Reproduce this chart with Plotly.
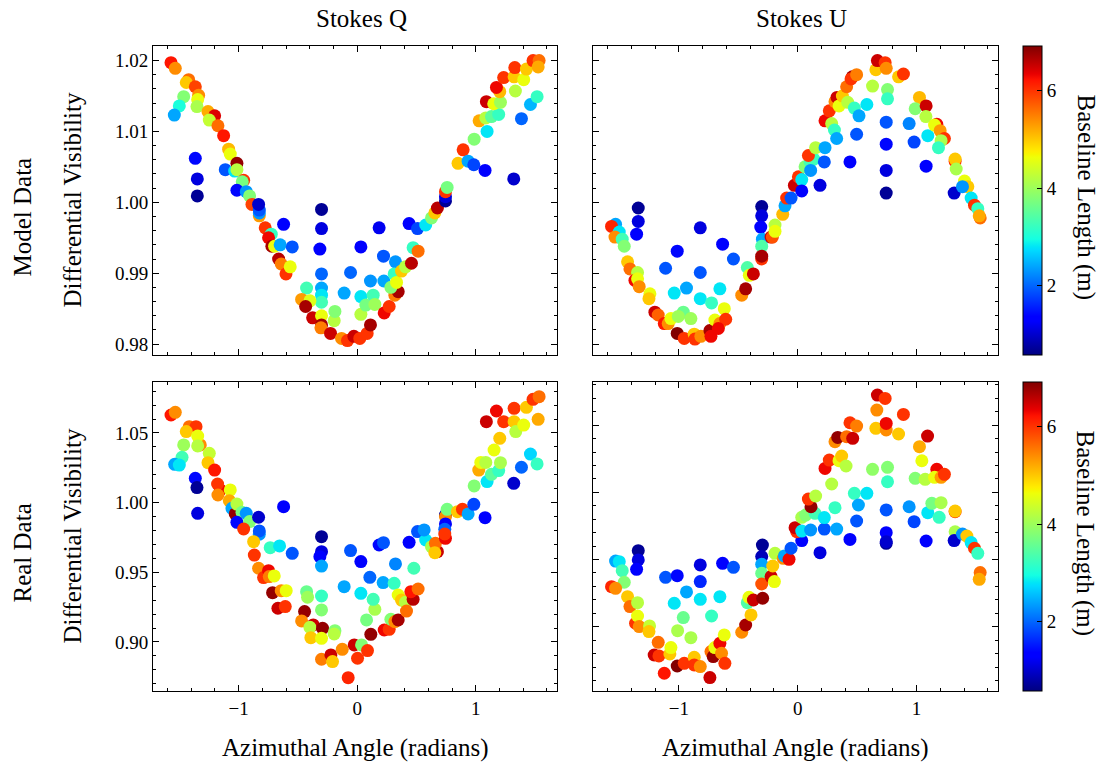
import plotly.graph_objects as go

FONT = "Liberation Serif"
W, H = 1103, 766

# ---------------------------------------------------------------- data
# Stokes Q, model data: azimuthal angle (rad), differential visibility, baseline length (m)
q_model_angle = [
    -1.571, -1.535, -1.422, -1.442, -1.366, -1.338, -1.346, -1.464, -1.501, -1.543,
    -1.352, -1.259, -1.203, -1.248, -1.175, -1.127, -1.085, -1.071, -1.366, -1.349,
    -1.349, -1.113, -1.034, -1.015, -1.015, -0.958, -0.970, -1.015, -0.936, -0.908,
    -0.888, -0.826, -0.826, -0.826, -0.832, -0.776, -0.725, -0.748, -0.720, -0.697,
    -0.650, -0.621, -0.548, -0.663, -0.641, -0.601, -0.565,
    -0.301, -0.301, -0.315, -0.301, -0.301, -0.301, -0.301, -0.427, -0.469, -0.399,
    -0.435, -0.376, -0.301, -0.194, -0.188, -0.301, -0.306, -0.225, -0.132, -0.082,
    -0.028, 0.022, 0.084, 0.112, -0.110, -0.056, 0.031, 0.031, 0.031, 0.073,
    0.135, 0.149, 0.112, 0.185, 0.222, 0.225, 0.228, 0.270, 0.323, 0.312,
    0.318, 0.346, 0.284, 0.332, 0.374, 0.408, 0.458, 0.438, 0.509, 0.578,
    0.472, 0.514,
    0.627, 0.655, 0.677, 0.745, 0.745, 0.745, 0.759, 0.851, 0.894, 0.936,
    0.984, 1.079, 1.321, 0.987, 1.096, 1.029, 1.085, 1.133, 1.194, 1.090,
    1.152, 1.209, 1.203, 1.175, 1.236, 1.335, 1.324, 1.330, 1.405, 1.428,
    1.386, 1.462, 1.518, 1.484, 1.535, 1.527,
]
q_model_vis = [
    1.0197, 1.0189, 1.0173, 1.0169, 1.0163, 1.0151, 1.0145, 1.0149, 1.0136, 1.0123,
    1.0135, 1.0128, 1.0122, 1.0116, 1.0108, 1.0094, 1.0075, 1.0068, 1.0062, 1.0033,
    1.0009, 1.0046, 1.0044, 1.0055, 1.0046, 1.0031, 1.0029, 1.0017, 1.0015, 1.0009,
    0.9997, 0.9981, 0.9985, 0.9989, 0.9997, 0.9964, 0.9955, 0.9950, 0.9938, 0.9938,
    0.9940, 0.9969, 0.9937, 0.9920, 0.9913, 0.9899, 0.9909,
    0.9990, 0.9963, 0.9934, 0.9899, 0.9879, 0.9869, 0.9859, 0.9879, 0.9863, 0.9861,
    0.9853, 0.9837, 0.9840, 0.9833, 0.9846, 0.9827, 0.9823, 0.9815, 0.9808, 0.9805,
    0.9811, 0.9808, 0.9815, 0.9827, 0.9872, 0.9901, 0.9937, 0.9867, 0.9842, 0.9855,
    0.9869, 0.9856, 0.9889, 0.9964, 0.9924, 0.9889, 0.9844, 0.9853, 0.9916, 0.9899,
    0.9869, 0.9874, 0.9880, 0.9887, 0.9903, 0.9909, 0.9914, 0.9970, 0.9963, 0.9968,
    0.9936, 0.9931,
    0.9978, 0.9985, 0.9992, 1.0002, 1.0008, 1.0015, 1.0021, 1.0055, 1.0074, 1.0058,
    1.0053, 1.0045, 1.0033, 1.0089, 1.0100, 1.0115, 1.0119, 1.0121, 1.0124, 1.0142,
    1.0139, 1.0141, 1.0156, 1.0162, 1.0176, 1.0157, 1.0177, 1.0190, 1.0173, 1.0188,
    1.0118, 1.0138, 1.0149, 1.0200, 1.0200, 1.0191,
]
q_model_length = [
    6.2, 5.4, 5.6, 5.0, 5.9, 5.4, 4.6, 3.8, 3.0, 2.4,
    4.1, 5.2, 6.4, 4.3, 5.6, 6.2, 5.1, 4.6, 1.4, 1.1,
    0.7, 1.9, 2.8, 6.8, 4.2, 6.0, 3.7, 1.4, 2.3, 3.8,
    5.9, 5.3, 2.3, 1.9, 1.0, 6.0, 3.2, 6.3, 6.7, 4.6,
    2.4, 1.3, 1.9, 6.6, 5.5, 6.0, 4.6,
    0.7, 1.1, 1.3, 2.0, 2.4, 2.8, 3.3, 3.3, 5.3, 4.5,
    6.7, 6.5, 4.6, 4.2, 3.8, 6.7, 5.5, 6.5, 5.4, 6.0,
    6.5, 6.0, 6.0, 6.7, 2.4, 2.0, 1.3, 2.8, 4.2, 3.7,
    3.3, 4.0, 2.3, 1.2, 1.9, 2.4, 6.3, 6.0, 2.3, 3.2,
    5.5, 6.7, 3.8, 4.6, 5.0, 4.2, 6.6, 1.3, 1.8, 2.8,
    3.2, 5.6,
    3.8, 5.0, 6.6, 0.7, 1.1, 6.0, 3.7, 5.0, 6.0, 2.4,
    1.8, 1.3, 1.0, 3.8, 2.8, 5.2, 4.2, 3.5, 3.2, 6.5,
    4.6, 4.0, 5.1, 6.3, 6.0, 4.2, 5.0, 6.0, 4.6, 5.0,
    2.0, 2.5, 3.2, 6.0, 5.6, 5.2,
]

# Stokes U, model data
u_model_angle = [
    -1.342, -1.342, -1.356, -1.533, -1.567, -1.502, -1.538, -1.477, -1.460, -1.432,
    -1.412, -1.348, -1.370, -1.348, -1.334, -1.244, -1.252, -1.202, -1.174, -1.123,
    -1.090, -1.067, -1.014, -1.112, -1.039, -0.936, -0.963, -1.005, -0.899, -1.014,
    -0.955, -0.871, -0.865, -0.815, -0.820, -0.820, -0.820, -0.725, -0.739, -0.697,
    -0.730, -0.655, -0.655, -0.632, -0.618,
    -0.541, -0.606, -0.668, -0.471, -0.438, -0.424, -0.407, -0.373, -0.303, -0.303,
    -0.311, -0.297, -0.303, -0.303, -0.303, -0.224, -0.213, -0.191, -0.191, -0.126,
    -0.107, -0.093, -0.056, -0.028, 0.006, 0.034, 0.034, 0.062, 0.135, 0.104,
    0.109, 0.090, 0.151, 0.188, 0.224, 0.230, 0.230, 0.286, 0.309, 0.328,
    0.266, 0.314, 0.331, 0.348, 0.376, 0.421, 0.477, 0.412, 0.460, 0.449,
    0.496, 0.440, 0.496, 0.516,
    0.582, 0.630, 0.658, 0.671, 0.736, 0.745, 0.756, 0.756, 0.745, 0.745,
    0.745, 0.745, 0.849, 0.890, 0.938, 0.980, 1.025, 0.989, 1.081, 1.079,
    1.081, 1.095, 1.171, 1.152, 1.199, 1.235, 1.207, 1.185, 1.325, 1.325,
    1.334, 1.317, 1.404, 1.432, 1.387, 1.460, 1.488, 1.516, 1.536, 1.528,
]
u_model_vis = [
    0.9992, 0.9973, 0.9955, 0.9969, 0.9966, 0.9958, 0.9951, 0.9948, 0.9938, 0.9916,
    0.9906, 0.9901, 0.9890, 0.9892, 0.9881, 0.9871, 0.9864, 0.9845, 0.9841, 0.9829,
    0.9829, 0.9836, 0.9931, 0.9907, 0.9872, 0.9879, 0.9845, 0.9839, 0.9836, 0.9815,
    0.9808, 0.9814, 0.9807, 0.9811, 0.9964, 0.9901, 0.9864, 0.9858, 0.9819, 0.9834,
    0.9811, 0.9829, 0.9878, 0.9941, 0.9850,
    0.9920, 0.9835, 0.9822, 0.9869, 0.9878, 0.9908, 0.9897, 0.9899, 0.9994, 0.9981,
    0.9965, 0.9948, 0.9938, 0.9920, 0.9924, 0.9951, 0.9951, 0.9968, 0.9959, 0.9983,
    0.9995, 1.0006, 1.0006, 1.0024, 1.0036, 1.0032, 1.0016, 1.0050, 1.0061, 1.0057,
    1.0045, 1.0066, 1.0077, 1.0024, 1.0057, 1.0077, 1.0115, 1.0111, 1.0102, 1.0090,
    1.0129, 1.0142, 1.0148, 1.0136, 1.0150, 1.0141, 1.0133, 1.0163, 1.0177, 1.0174,
    1.0180, 1.0057, 1.0096, 1.0122,
    1.0138, 1.0164, 1.0187, 1.0200, 1.0197, 1.0189, 1.0159, 1.0146, 1.0113, 1.0082,
    1.0045, 1.0013, 1.0177, 1.0181, 1.0111, 1.0085, 1.0148, 1.0132, 1.0136, 1.0121,
    1.0051, 1.0094, 1.0110, 1.0109, 1.0101, 1.0090, 1.0087, 1.0077, 1.0058, 1.0061,
    1.0047, 1.0013, 1.0030, 1.0022, 1.0022, 1.0006, 0.9996, 0.9991, 0.9978, 0.9981,
]
u_model_length = [
    0.7, 1.1, 1.3, 2.4, 6.1, 2.8, 5.4, 3.3, 3.8, 5.0,
    5.6, 4.2, 6.3, 4.6, 5.4, 4.6, 5.0, 6.5, 5.7, 6.2,
    5.4, 4.6, 1.4, 1.9, 2.8, 2.4, 3.6, 4.0, 4.0, 6.9,
    6.0, 5.0, 6.0, 5.4, 1.1, 1.9, 2.8, 3.2, 6.7, 4.6,
    6.3, 5.4, 2.8, 1.3, 4.6,
    1.9, 6.0, 6.3, 5.4, 6.7, 3.4, 4.6, 6.5, 0.7, 1.1,
    1.3, 2.4, 3.4, 6.0, 6.7, 6.5, 5.8, 4.2, 4.6, 5.1,
    2.4, 6.0, 1.9, 6.5, 6.0, 2.8, 1.3, 3.8, 3.2, 3.3,
    2.3, 6.0, 4.2, 1.1, 1.9, 2.4, 6.3, 4.2, 3.2, 2.4,
    6.0, 5.4, 6.5, 4.6, 5.0, 4.2, 3.2, 5.6, 6.7, 6.0,
    5.5, 1.3, 1.9, 2.4,
    2.8, 4.2, 5.0, 6.5, 6.0, 5.4, 3.8, 3.2, 1.9, 1.4,
    1.1, 0.7, 5.0, 6.0, 2.2, 1.8, 5.1, 3.8, 6.5, 4.2,
    1.3, 2.8, 6.3, 4.6, 5.3, 6.0, 4.1, 3.2, 6.0, 5.0,
    4.1, 1.0, 4.6, 5.0, 2.3, 2.8, 6.0, 3.2, 5.6, 5.2,
]

# Stokes Q, real data
q_real_angle = [
    -1.571, -1.535, -1.417, -1.360, -1.442, -1.324, -1.346, -1.346, -1.464, -1.478,
    -1.540, -1.501, -1.248, -1.259, -1.203, -1.366, -1.352, -1.346, -1.155, -1.178,
    -1.175, -1.071, -1.079, -1.057, -1.029, -1.015, -0.972, -0.936, -1.015, -0.908,
    -0.958, -0.832, -0.826, -0.826, -0.874, -0.868, -0.734, -0.655, -0.621, -0.548,
    -0.832, -0.790, -0.748, -0.742, -0.700, -0.714, -0.641, -0.599, -0.669, -0.607,
    -0.301, -0.301, -0.315, -0.301, -0.427, -0.419, -0.301, -0.444, -0.469, -0.371,
    -0.399, -0.301, -0.292, -0.391, -0.301, -0.188, -0.194, -0.301, -0.222, -0.208,
    -0.126, -0.076, -0.025, 0.037, 0.003, 0.087, 0.115, 0.079, 0.149, 0.135,
    0.031, -0.110, -0.056, 0.031, 0.107, 0.185, 0.222, 0.219, 0.312, 0.323,
    0.228, 0.270, 0.284, 0.318, 0.346, 0.346, 0.374, 0.408, 0.416, 0.472,
    0.453, 0.514, 0.438, 0.478, 0.509, 0.578, 0.565,
    0.627, 0.677, 0.660, 0.655, 0.745, 0.745, 0.759, 0.745, 0.739, 0.745,
    0.739, 0.846, 0.888, 0.936, 0.984, 1.079, 1.321, 0.987, 1.096, 1.026,
    1.043, 1.085, 1.133, 1.194, 1.209, 1.155, 1.203, 1.090, 1.175, 1.236,
    1.324, 1.338, 1.405, 1.324, 1.428, 1.484, 1.535, 1.527, 1.386, 1.462,
    1.518,
]
q_real_vis = [
    1.0629, 1.0648, 1.0545, 1.0545, 1.0510, 1.0414, 1.0478, 1.0407, 1.0414, 1.0325,
    1.0275, 1.0270, 1.0354, 1.0287, 1.0234, 1.0175, 1.0108, 0.9923, 1.0091, 1.0134,
    1.0055, 1.0091, 1.0014, 0.9959, 0.9919, 0.9990, 0.9931, 0.9923, 0.9859, 0.9864,
    0.9811, 0.9895, 0.9773, 0.9797, 0.9720, 0.9624, 0.9677, 0.9689, 0.9971, 0.9636,
    0.9529, 0.9462, 0.9512, 0.9469, 0.9474, 0.9354, 0.9368, 0.9368, 0.9242, 0.9254,
    0.9756, 0.9648, 0.9612, 0.9545, 0.9361, 0.9321, 0.9330, 0.9218, 0.9151, 0.9122,
    0.9105, 0.9230, 0.9098, 0.9031, 0.9026, 0.9081, 0.9057, 0.8876, 0.8907, 0.8859,
    0.8947, 0.8744, 0.8979, 0.8979, 0.8883, 0.8938, 0.9055, 0.9158, 0.9234, 0.9306,
    0.9349, 0.9397, 0.9656, 0.9577, 0.9464, 0.9696, 0.9713, 0.9426, 0.9421, 0.9560,
    0.9086, 0.9091, 0.9163, 0.9146, 0.9158, 0.9337, 0.9301, 0.9285, 0.9222, 0.9306,
    0.9361, 0.9380, 0.9715, 0.9529, 0.9792, 0.9732, 0.9804,
    0.9684, 0.9648, 0.9708, 0.9641, 0.9911, 0.9900, 0.9952, 0.9847, 0.9809, 0.9744,
    0.9775, 0.9935, 0.9952, 0.9919, 0.9988, 0.9892, 1.0139, 1.0120, 1.0151, 1.0234,
    1.0289, 1.0289, 1.0203, 1.0230, 1.0287, 1.0378, 1.0462, 1.0581, 1.0658, 1.0581,
    1.0581, 1.0510, 1.0557, 1.0677, 1.0684, 1.0742, 1.0761, 1.0598, 1.0254, 1.0349,
    1.0278,
]
q_real_length = [
    6.2, 5.4, 5.6, 6.0, 5.0, 5.4, 4.6, 4.2, 4.0, 3.3,
    2.4, 2.8, 4.3, 5.0, 6.2, 1.4, 0.7, 1.1, 6.3, 6.0,
    5.4, 4.6, 5.2, 2.4, 6.8, 4.2, 3.7, 2.3, 1.4, 3.8,
    6.0, 1.0, 2.3, 1.9, 5.0, 6.0, 3.2, 2.8, 1.3, 1.9,
    5.4, 6.0, 6.3, 5.5, 4.6, 6.8, 5.4, 4.6, 6.5, 6.0,
    0.7, 1.1, 1.3, 2.4, 3.6, 4.0, 3.2, 6.8, 5.4, 6.5,
    4.2, 3.8, 6.8, 5.0, 4.6, 3.8, 4.2, 5.5, 6.5, 5.0,
    5.4, 6.1, 6.5, 3.8, 6.0, 6.0, 6.8, 3.7, 4.1, 3.3,
    2.8, 2.4, 1.9, 1.3, 2.0, 1.4, 1.9, 2.4, 3.2, 2.2,
    6.3, 6.0, 3.8, 5.4, 6.7, 4.6, 5.0, 4.2, 5.6, 6.6,
    6.2, 5.6, 1.3, 3.3, 1.9, 2.8, 2.3,
    4.1, 6.5, 5.6, 5.0, 0.8, 5.4, 3.7, 1.3, 2.0, 6.3,
    6.0, 5.0, 6.0, 2.4, 1.8, 1.3, 1.0, 3.8, 2.8, 5.2,
    4.6, 4.2, 3.5, 3.2, 4.1, 4.6, 5.0, 6.5, 6.3, 6.0,
    5.0, 4.2, 4.6, 6.0, 5.0, 6.0, 5.6, 5.2, 2.0, 2.7,
    3.2,
]

# Stokes U, real data
u_real_angle = [
    -1.342, -1.342, -1.356, -1.533, -1.502, -1.477, -1.460, -1.567, -1.533, -1.432,
    -1.412, -1.348, -1.365, -1.348, -1.334, -1.247, -1.252, -1.174, -1.208, -1.168,
    -1.123, -1.076, -1.067, -1.112, -1.014, -1.039, -0.936, -0.963, -1.011, -0.899,
    -1.014, -0.955, -0.871, -0.871, -0.820, -0.820, -0.820, -0.820, -0.725, -0.739,
    -0.730, -0.711, -0.697, -0.655, -0.632, -0.655, -0.641, -0.618, -0.613,
    -0.541, -0.471, -0.438, -0.424, -0.410, -0.393, -0.373, -0.297, -0.303, -0.303,
    -0.303, -0.303, -0.295, -0.224, -0.196, -0.210, -0.191, -0.121, -0.112, -0.073,
    -0.056, 0.034, -0.008, -0.022, 0.034, 0.109, 0.034, 0.067, 0.146, 0.112,
    0.090, 0.151, 0.188, 0.224, 0.224, 0.328, 0.314, 0.286, 0.230, 0.266,
    0.348, 0.370, 0.407, 0.314, 0.337, 0.412, 0.463, 0.440, 0.496, 0.440,
    0.496, 0.477, 0.511,
    0.582, 0.630, 0.658, 0.666, 0.671, 0.736, 0.745, 0.745, 0.756, 0.756,
    0.745, 0.745, 0.745, 0.745, 0.849, 0.890, 0.938, 0.980, 1.025, 1.045,
    0.989, 1.073, 1.093, 1.081, 1.095, 1.171, 1.152, 1.207, 1.235, 1.129,
    1.207, 1.191, 1.325, 1.325, 1.325, 1.317, 1.387, 1.424, 1.460, 1.488,
    1.516, 1.536, 1.528,
]
u_real_vis = [
    0.9566, 0.9497, 0.9427, 0.9489, 0.9484, 0.9417, 0.9331, 0.9298, 0.9286, 0.9224,
    0.9150, 0.9179, 0.9026, 0.9080, 0.9001, 0.9006, 0.8964, 0.8884, 0.8790, 0.8783,
    0.8654, 0.8798, 0.8845, 0.9368, 0.9380, 0.9175, 0.9259, 0.9068, 0.8971, 0.8919,
    0.8708, 0.8728, 0.8773, 0.8716, 0.8704, 0.9460, 0.9336, 0.9204, 0.9080, 0.8622,
    0.8815, 0.8778, 0.8845, 0.9224, 0.9472, 0.8877, 0.8803, 0.8939, 0.8728,
    0.9442, 0.8959, 0.9013, 0.9179, 0.9219, 0.9088, 0.9199, 0.9608, 0.9522, 0.9465,
    0.9398, 0.9318, 0.9212, 0.9373, 0.9336, 0.9452, 0.9546, 0.9509, 0.9527, 0.9502,
    0.9584, 0.9641, 0.9707, 0.9737, 0.9712, 0.9720, 0.9814, 0.9831, 0.9844, 0.9893,
    0.9950, 0.9973, 0.9551, 0.9727, 0.9812, 0.9727, 0.9886, 1.0062, 1.0178, 1.0240,
    1.0236, 1.0270, 1.0196, 1.0377, 1.0409, 1.0414, 1.0402, 1.0518, 1.0493, 0.9650,
    0.9787, 0.9993, 0.9906,
    0.9993, 1.0171, 1.0476, 1.0612, 1.0724, 1.0699, 1.0464, 1.0513, 1.0186, 1.0079,
    0.9869, 0.9700, 0.9621, 0.9633, 1.0434, 1.0580, 0.9893, 0.9782, 1.0340, 1.0235,
    1.0104, 1.0097, 1.0419, 0.9638, 0.9849, 1.0171, 1.0112, 1.0112, 1.0134, 0.9918,
    0.9923, 0.9814, 0.9856, 0.9861, 0.9707, 0.9641, 0.9690, 0.9675, 0.9626, 0.9584,
    0.9546, 0.9403, 0.9353,
]
u_real_length = [
    0.7, 1.1, 1.3, 2.4, 2.8, 3.3, 3.8, 6.1, 5.4, 5.0,
    5.6, 4.2, 6.0, 4.6, 5.4, 4.3, 5.0, 5.6, 6.5, 6.0,
    6.2, 5.0, 4.6, 1.9, 1.4, 2.8, 2.4, 3.6, 4.1, 4.1,
    6.9, 6.0, 5.0, 6.0, 5.4, 1.1, 1.6, 2.8, 3.2, 6.5,
    5.6, 6.8, 4.6, 2.8, 1.3, 6.3, 5.4, 4.6, 6.0,
    1.9, 5.4, 6.7, 3.4, 4.6, 5.0, 6.5, 0.7, 0.9, 2.4,
    3.6, 5.8, 6.8, 6.5, 4.6, 5.0, 4.2, 5.4, 2.4, 6.3,
    1.9, 1.3, 6.0, 6.5, 2.8, 2.3, 4.1, 3.8, 3.3, 6.8,
    6.0, 4.2, 1.1, 1.9, 2.8, 2.4, 3.2, 4.2, 6.3, 6.0,
    4.6, 5.0, 4.2, 5.4, 6.8, 5.6, 6.5, 6.0, 5.5, 1.3,
    1.9, 3.2, 2.4,
    2.8, 3.9, 5.0, 5.4, 6.5, 6.0, 5.4, 6.3, 3.8, 3.2,
    1.9, 1.3, 0.7, 1.0, 5.0, 6.0, 2.3, 1.8, 5.2, 4.6,
    3.8, 4.2, 6.5, 1.3, 2.8, 6.3, 4.6, 5.3, 6.0, 3.7,
    4.1, 3.2, 6.0, 5.0, 4.1, 1.0, 2.3, 5.0, 2.8, 6.0,
    3.2, 5.6, 5.2,
]

column_titles = ["Stokes Q", "Stokes U"]
row_titles = ["Model Data", "Real Data"]
x_title = "Azimuthal Angle (radians)"
y_title = "Differential Visibility"
cbar_title = "Baseline Length (m)"
cbar_ticks = [2, 4, 6]
length_min, length_max = 0.58, 6.91

# ---------------------------------------------------------------- colormap
# matplotlib "jet" as piecewise-linear channel segments
JET_SEGMENTS = {
    "r": [(0.0, 0.0), (0.35, 0.0), (0.66, 1.0), (0.89, 1.0), (1.0, 0.5)],
    "g": [(0.0, 0.0), (0.125, 0.0), (0.375, 1.0), (0.64, 1.0), (0.91, 0.0), (1.0, 0.0)],
    "b": [(0.0, 0.5), (0.11, 1.0), (0.34, 1.0), (0.65, 0.0), (1.0, 0.0)],
}


def _channel(points, t):
    for (t0, v0), (t1, v1) in zip(points[:-1], points[1:]):
        if t0 <= t <= t1:
            return v0 + (v1 - v0) * (t - t0) / (t1 - t0)
    return points[-1][1]


_stops = sorted({t for seg in JET_SEGMENTS.values() for t, _ in seg})
JET = [[t, "rgb(%d,%d,%d)" % tuple(round(255 * _channel(JET_SEGMENTS[c], t)) for c in "rgb")]
       for t in _stops]

# ---------------------------------------------------------------- layout helpers
# panel edges in pixels (left, right, top, bottom)
COLS = [(153, 557), (593, 998)]
ROWS = [(46, 355), (382, 691)]


def fx(p):
    return p / W


def fy(p):
    return 1 - p / H


def make_axis(domain, rng, dtick, minor_dtick, anchor, labels, fmt=None):
    ax = dict(
        domain=domain, range=rng, anchor=anchor, autorange=False,
        showgrid=False, zeroline=False, showline=True, linecolor="black", linewidth=1,
        mirror="allticks", ticks="inside", ticklen=6, tickwidth=1, tickcolor="black",
        tick0=0, dtick=dtick, showticklabels=labels,
        tickfont=dict(family=FONT, size=19, color="black"),
        minor=dict(ticks="inside", ticklen=3, tickwidth=1, tickcolor="black",
                   tick0=0, dtick=minor_dtick, showgrid=False),
    )
    if fmt:
        ax["tickformat"] = fmt
    return ax


x_range = [-1.723, 1.686]
y_ranges = [
    [0.97846, 1.02205],  # model Q
    [0.97846, 1.02205],  # model U
    [0.8648, 1.0866],    # real Q
    [0.8522, 1.0821],    # real U
]
y_steps = [(0.01, 0.002), (0.01, 0.002), (0.05, 0.01), (0.05, 0.01)]

panels = [
    (q_model_angle, q_model_vis, q_model_length),
    (u_model_angle, u_model_vis, u_model_length),
    (q_real_angle, q_real_vis, q_real_length),
    (u_real_angle, u_real_vis, u_real_length),
]

fig = go.Figure()
layout = dict(
    width=W, height=H, margin=dict(l=0, r=0, t=0, b=0),
    paper_bgcolor="white", plot_bgcolor="white", showlegend=False,
    font=dict(family=FONT, color="black"),
)

for i, (ang, vis, length) in enumerate(panels):
    assert len(ang) == len(vis) == len(length)
    r, c = divmod(i, 2)
    n = "" if i == 0 else str(i + 1)
    fig.add_trace(go.Scatter(
        x=ang, y=vis, mode="markers", xaxis="x" + n, yaxis="y" + n,
        hoverinfo="skip",
        marker=dict(size=13, color=length, coloraxis="coloraxis" + ("" if r == 0 else "2"),
                    line=dict(width=0), opacity=1),
    ))
    left, right = COLS[c]
    top, bottom = ROWS[r]
    layout["xaxis" + n] = make_axis([fx(left), fx(right)], x_range, 1, 0.2,
                                    "y" + n, labels=(r == 1))
    layout["yaxis" + n] = make_axis([fy(bottom), fy(top)], y_ranges[i], y_steps[i][0],
                                    y_steps[i][1], "x" + n, labels=(c == 0), fmt=".2f")

for r in range(2):
    top, bottom = ROWS[r]
    layout["coloraxis" + ("" if r == 0 else "2")] = dict(
        colorscale=JET, cmin=length_min, cmax=length_max,
        colorbar=dict(
            x=fx(1023), xanchor="left", y=fy((top + bottom) / 2), yanchor="middle",
            len=(bottom - top) / H, lenmode="fraction", thickness=19, thicknessmode="pixels",
            xpad=0, ypad=0, outlinewidth=1, outlinecolor="black",
            tickvals=cbar_ticks, ticks="inside", ticklen=5, tickcolor="black",
            tickfont=dict(family=FONT, size=19, color="black"),
        ),
    )

LABEL = dict(family=FONT, size=25, color="black")


def note(text, x, y, angle=0):
    return dict(text=text, x=fx(x), y=fy(y), textangle=angle, xref="paper", yref="paper",
                xanchor="center", yanchor="middle", showarrow=False, font=LABEL)


annotations = []
for c, title in enumerate(column_titles):
    left, right = COLS[c]
    annotations.append(note(title, (left + right) / 2 + 6, 19))
    annotations.append(note(x_title, (left + right) / 2, 748))
for r, title in enumerate(row_titles):
    top, bottom = ROWS[r]
    mid = (top + bottom) / 2
    annotations.append(note(title, 22, mid + 17, -90))
    annotations.append(note(y_title, 72, mid, -90))
    annotations.append(note(cbar_title, 1085, mid - 3, 90))
layout["annotations"] = annotations

fig.update_layout(**layout)
fig.write_html("out.html")
